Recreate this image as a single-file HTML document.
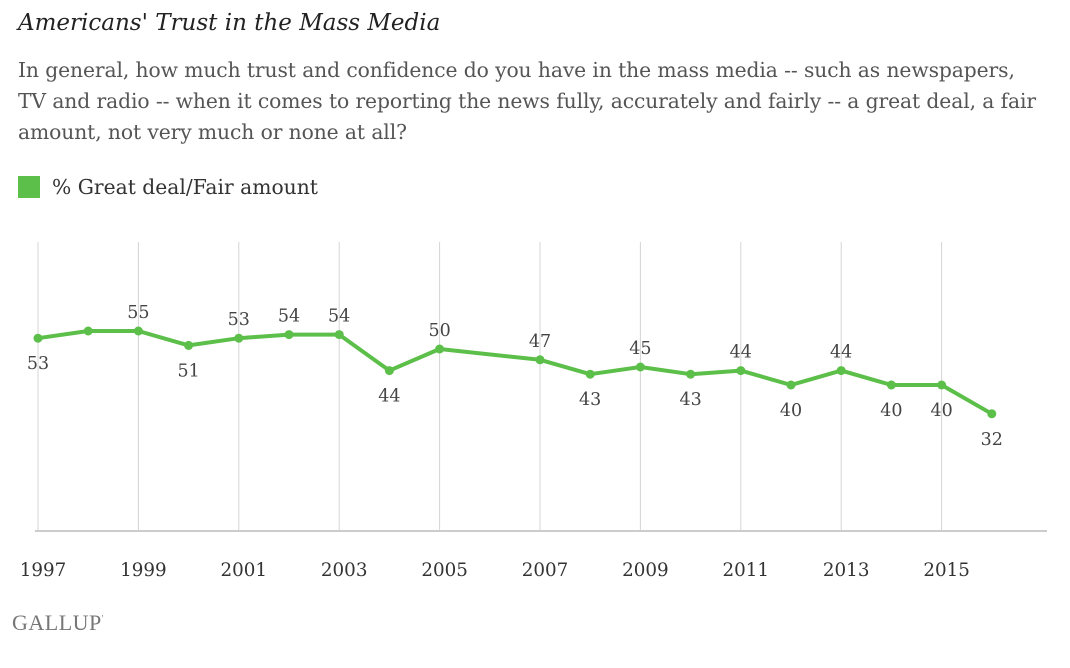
<!DOCTYPE html>
<html><head><meta charset="utf-8"><style>
body{margin:0;background:#fff;width:1070px;height:668px;overflow:hidden;font-family:"DejaVu Serif",serif;color:#333}
.t{position:absolute;left:18px;top:10px;font-size:23px;font-style:italic;color:#222;white-space:nowrap}
.q{position:absolute;left:18px;top:55px;font-size:20.3px;line-height:31px;color:#555;white-space:nowrap;letter-spacing:-0.1px}
.lg{position:absolute;left:18px;top:175px;font-size:20.3px;color:#333}
.lg span{display:inline-block;width:22px;height:22px;background:#5cbf49;vertical-align:-4px;margin-right:12px}
.g{position:absolute;left:12px;top:610px;font-size:22px;color:#777;font-family:"Liberation Serif",serif;letter-spacing:0.5px}
</style></head><body>
<div class="t">Americans' Trust in the Mass Media</div>
<div class="q">In general, how much trust and confidence do you have in the mass media -- such as newspapers,<br>TV and radio -- when it comes to reporting the news fully, accurately and fairly -- a great deal, a fair<br>amount, not very much or none at all?</div>
<div class="lg"><span></span>% Great deal/Fair amount</div>
<svg id="c" width="1070" height="668" style="position:absolute;left:0;top:0"></svg>
<div class="g">GALLUP<sup style="font-size:9px">'</sup></div>
<script>
const years=[1997,1998,1999,2000,2001,2002,2003,2004,2005,2007,2008,2009,2010,2011,2012,2013,2014,2015,2016];
const values=[53,55,55,51,53,54,54,44,50,47,43,45,43,44,40,44,40,40,32];
const labelPos=['b','n','a','b','a','a','a','b','a','a','b','a','b','a','b','a','b','b','b'];
const tickYears=[1997,1999,2001,2003,2005,2007,2009,2011,2013,2015];
const NS='http://www.w3.org/2000/svg';
const svg=document.getElementById('c');
const x=y=>38+(y-1997)*50.2;
const yS=v=>529-v*3.6;
function mk(t,a){const e=document.createElementNS(NS,t);for(const k in a)e.setAttribute(k,a[k]);svg.appendChild(e);return e;}
tickYears.forEach(t=>{
 const l=mk('line',{x1:x(t),x2:x(t),y1:242,y2:531,stroke:'#d4d4d4','stroke-width':1});
 
 
 const tx=mk('text',{x:x(t)+5,y:576,'text-anchor':'middle','font-size':18.3,fill:'#333','font-family':'DejaVu Serif, serif'});
 tx.textContent=t;
 
 
});
const ax=mk('line',{x1:35,x2:1047,y1:531,y2:531,stroke:'#ccc','stroke-width':2});


const pts=years.map((yr,i)=>x(yr)+','+yS(values[i])).join(' ');
const pl=mk('polyline',{points:pts,fill:'none',stroke:'#5cbf49','stroke-width':4,'stroke-linejoin':'round'});


years.forEach((yr,i)=>{
 const c=mk('circle',{cx:x(yr),cy:yS(values[i]),r:4.5,fill:'#5cbf49'});
 
 
 if(labelPos[i]!=='n'){
  const ty=labelPos[i]==='a'?yS(values[i])-13:yS(values[i])+31;
  const t=mk('text',{x:x(yr),y:ty,'text-anchor':'middle','font-size':17.5,fill:'#444','font-family':'DejaVu Serif, serif'});
  t.textContent=values[i];
  
  
 }
});
</script>
</body></html>
